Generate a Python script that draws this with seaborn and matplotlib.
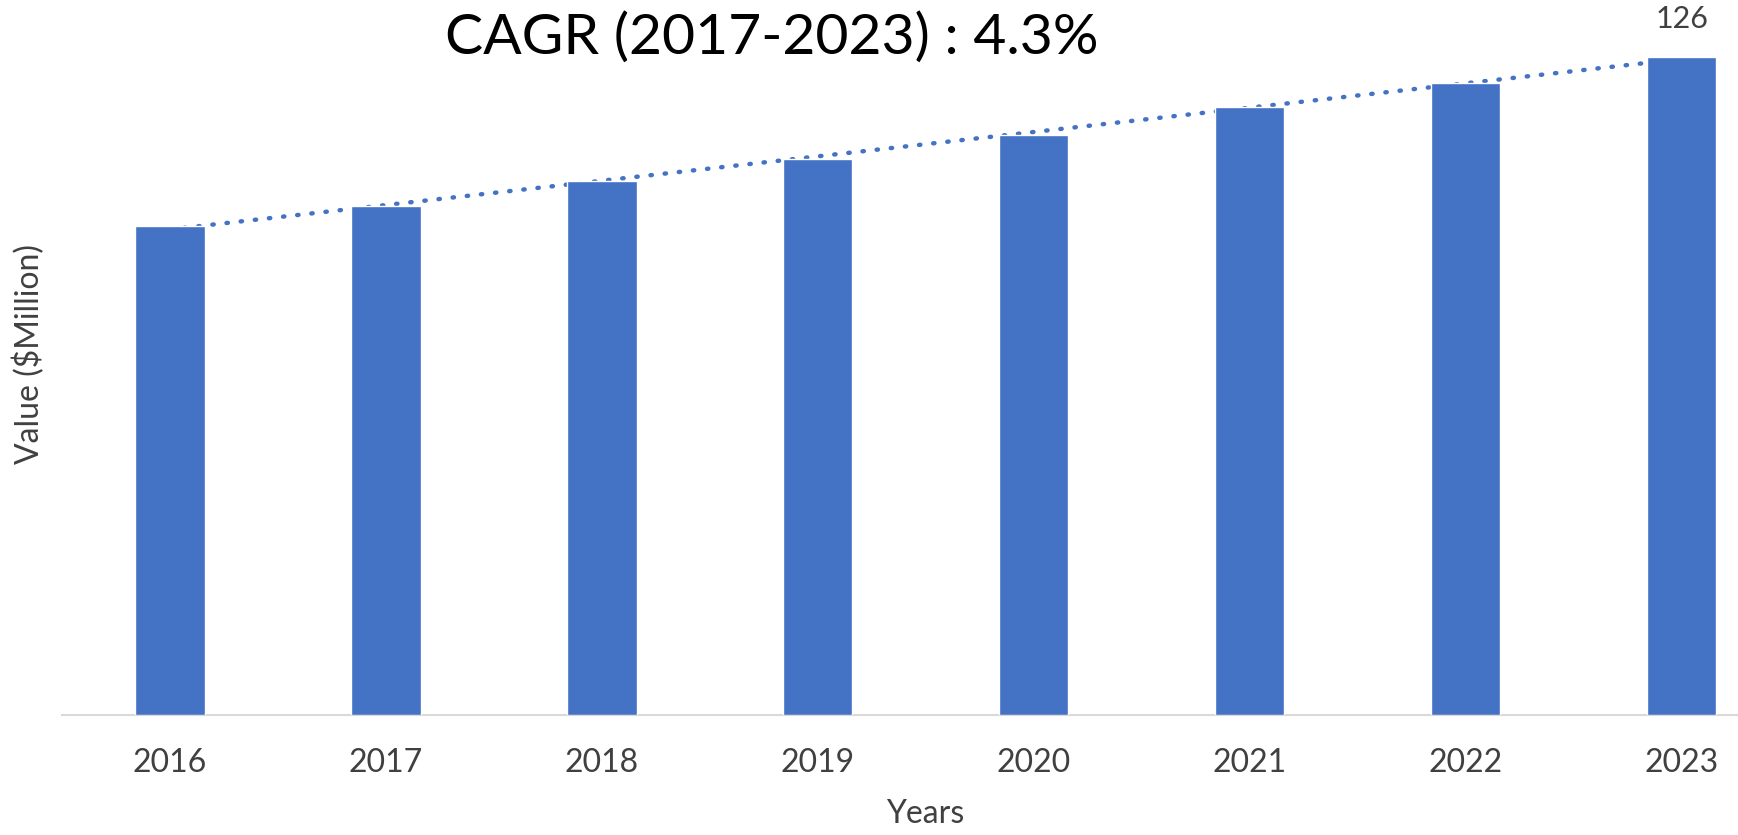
import numpy as np
import pandas as pd
import seaborn as sns
import matplotlib.pyplot as plt

# valores
years = ['2016', '2017', '2018', '2019', '2020', '2021', '2022', '2023']
values = [93.6, 97.5, 102.3, 106.5, 111.1, 116.4, 121.1, 126]
title = 'CAGR (2017-2023) : 4.3%'

df = pd.DataFrame({'Year': years, 'Value': values})

sns.set_style('white')
plt.rcParams['font.family'] = ['Lato', 'DejaVu Sans']

fig = plt.figure(figsize=(17.38, 8.35), dpi=100)
ax = fig.add_axes([62 / 1738, 120 / 835, 1676 / 1738, 715 / 835])

blue = '#4472C4'
sns.barplot(data=df, x='Year', y='Value', color=blue, saturation=1, width=0.32, ax=ax, zorder=3)

# linea de tendencia lineal (como en excel)
xs = np.arange(len(values))
m, b = np.polyfit(xs, values, 1)
ax.plot(xs, m * xs + b, color=blue, lw=3.2, dashes=(0.3, 2.9), dash_capstyle='round', zorder=2)

# etiqueta solo para el ultimo año
labels = [''] * (len(values) - 1) + [f'{values[-1]:.0f}']
ax.bar_label(ax.containers[0], labels=labels, padding=17, fontsize=22, color='#404040')

ax.set_xlim(-0.5, 7.26)
ax.set_ylim(0, values[-1] / 658 * 715)
ax.set_yticks([])
for s in ['top', 'right', 'left']:
    ax.spines[s].set_visible(False)
ax.spines['bottom'].set_color('#D9D9D9')
ax.spines['bottom'].set_linewidth(1.5)
ax.tick_params(axis='x', length=0, pad=24, labelsize=23, labelcolor='#404040')

ax.set_xlabel('Years', fontsize=23, color='#404040', va='baseline')
ax.xaxis.set_label_coords((925 - 62) / 1676, (715 - 823) / 715)
ax.set_ylabel('Value ($Million)', fontsize=23, color='#404040', va='center')
ax.yaxis.set_label_coords((29 - 62) / 1676, (715 - 354) / 715)

fig.text(772 / 1738, 1 - 38 / 835, title, fontsize=41, ha='center', va='center', color='black')

plt.savefig('out.png', dpi=100)
